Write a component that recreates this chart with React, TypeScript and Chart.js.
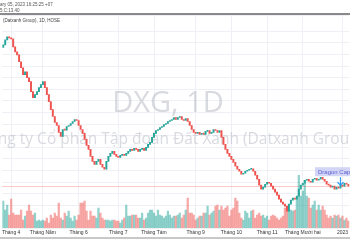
import React, { useEffect, useRef } from "react";
import { Chart, registerables } from "chart.js";

Chart.register(...registerables);

const opens = [
  34.3, 34.7, 35.45, 35.9, 35.75, 35.6, 34.4, 33.65, 33.2, 32.15,
  31.25, 30.2, 30.65, 29.75, 29.15, 27.65, 26.75, 27.2, 27.65, 28.25,
  28.7, 29.15, 28.25, 27.2, 26.15, 24.95, 23.9, 23.0, 22.55, 21.5,
  20.9, 21.95, 21.85, 22.4, 22.55, 22.85, 23.15, 23.45, 23.3, 22.55,
  21.95, 21.35, 20.45, 19.55, 18.95, 17.9, 17.15, 16.7, 17.15, 17.45,
  16.7, 16.25, 15.95, 17.15, 17.9, 18.35, 18.65, 18.2, 17.9, 17.75,
  18.05, 18.2, 18.05, 18.35, 18.65, 18.95, 18.8, 19.1, 18.95, 18.65,
  18.95, 19.1, 18.8, 19.25, 19.7, 20.0, 20.75, 21.35, 21.8, 21.95,
  22.25, 22.4, 22.7, 22.85, 23.15, 23.3, 23.45, 23.75, 23.45, 23.75,
  23.9, 23.45, 23.3, 23.6, 23.15, 22.55, 21.95, 21.5, 21.35, 21.5,
  21.2, 21.35, 21.2, 21.65, 21.8, 21.35, 21.5, 21.95, 21.8, 21.5,
  21.8, 20.75, 19.7, 18.95, 18.35, 17.9, 17.45, 17.0, 16.4, 15.95,
  15.65, 15.2, 15.35, 15.65, 15.8, 15.95, 16.0, 15.65, 15.05, 14.45,
  13.55, 12.95, 13.25, 13.7, 14.0, 13.85, 13.4, 12.95, 12.5, 12.05,
  11.45, 11.0, 10.7, 10.4, 9.65, 10.7, 11.3, 11.6, 11.45, 11.9,
  12.95, 13.55, 13.85, 14.3, 14.45, 14.15, 14.0, 14.45, 14.6, 14.3,
  14.45, 14.75, 14.45, 14.15, 13.7, 13.55, 13.25, 13.4, 12.95, 13.25,
  13.1, 13.55, 13.4, 13.85, 13.7,
];

const closes = [
  34.7, 35.45, 35.9, 35.75, 35.6, 34.4, 33.65, 33.2, 32.15, 31.25,
  30.2, 30.65, 29.75, 29.15, 27.65, 26.75, 27.2, 27.65, 28.25, 28.7,
  29.15, 28.25, 27.2, 26.15, 24.95, 23.9, 23.0, 22.55, 21.5, 20.9,
  21.95, 21.85, 22.4, 22.55, 22.85, 23.15, 23.45, 23.3, 22.55, 21.95,
  21.35, 20.45, 19.55, 18.95, 17.9, 17.15, 16.7, 17.15, 17.45, 16.7,
  16.25, 15.95, 17.15, 17.9, 18.35, 18.65, 18.2, 17.9, 17.75, 18.05,
  18.2, 18.05, 18.35, 18.65, 18.95, 18.8, 19.1, 18.95, 18.65, 18.95,
  19.1, 18.8, 19.25, 19.7, 20.0, 20.75, 21.35, 21.8, 21.95, 22.25,
  22.4, 22.7, 22.85, 23.15, 23.3, 23.45, 23.75, 23.45, 23.75, 23.9,
  23.45, 23.3, 23.6, 23.15, 22.55, 21.95, 21.5, 21.35, 21.5, 21.2,
  21.35, 21.2, 21.65, 21.8, 21.35, 21.5, 21.95, 21.8, 21.5, 21.8,
  20.75, 19.7, 18.95, 18.35, 17.9, 17.45, 17.0, 16.4, 15.95, 15.65,
  15.2, 15.35, 15.65, 15.8, 15.95, 16.0, 15.65, 15.05, 14.45, 13.55,
  12.95, 13.25, 13.7, 14.0, 13.85, 13.4, 12.95, 12.5, 12.05, 11.45,
  11.0, 10.7, 10.4, 9.65, 10.7, 11.3, 11.6, 11.45, 11.9, 12.95,
  13.55, 13.85, 14.3, 14.45, 14.15, 14.0, 14.45, 14.6, 14.3, 14.45,
  14.75, 14.45, 14.15, 13.7, 13.55, 13.25, 13.4, 12.95, 13.25, 13.1,
  13.55, 13.4, 13.85, 13.7, 13.4,
];

const volumes = [
  13.5, 9, 11.5, 6.5, 14.5, 7.5, 6.5, 6.5, 6.5, 9,
  4, 6, 8.5, 11.5, 8.5, 6.5, 7.5, 3.5, 4, 3.5,
  4, 3.5, 5, 2.5, 6.5, 5, 7.5, 6, 12.5, 5,
  4, 7.5, 6, 8.5, 5, 3.5, 6, 4, 6.5, 12.5,
  12.5, 13.5, 8.5, 4, 8.5, 6, 6, 5, 10, 7.5,
  5, 4, 4, 4, 3.5, 4, 4, 3.5, 3.5, 2.5,
  4, 5, 11.5, 6, 6, 6.5, 6.5, 6.5, 5, 5,
  7.5, 4, 5, 7.5, 9, 9, 7.5, 6, 9, 6.5,
  6, 5, 6, 8.5, 6.5, 5, 6, 6, 6.5, 7.5,
  5, 6.5, 9, 15, 7.5, 7.5, 6.5, 4, 5, 6,
  6, 7.5, 7.5, 11, 6.5, 7.5, 8.5, 11, 11.5, 9,
  11, 9, 10, 11, 6, 9, 10, 15, 13.5, 7.5,
  5, 4, 8.5, 7.5, 5, 8.5, 9, 5, 6.5, 7.5,
  6, 6.5, 5, 6, 4, 6, 6.5, 6, 5, 4,
  5, 6, 10, 11, 8.5, 9, 8.5, 9, 15, 26.5,
  16, 18.5, 24, 16, 15, 10, 11.5, 13.5, 9, 11.5,
  9, 11, 9, 6.5, 5, 6, 5, 6.5, 6, 6.5,
  5, 6, 4, 5, 3.5,
];

const monthIndex = [4, 20, 38, 58, 76, 97, 115, 133, 151, 171];
const monthLabels = [
  "Tháng 4", "Tháng Năm", "Tháng 6", "Tháng 7", "Tháng Tám",
  "Tháng 9", "Tháng 10", "Tháng 11", "Tháng Mười hai", "2023",
];

const symbolText = "DXG, 1D";
const companyText = "Công ty Cổ phần Tập đoàn Đất Xanh (Datxanh Group)";
const eventText = "Dragon Capital";
const eventIndex = 170;
const headerLine1 = "ary 05, 2023 16:25:25 +07";
const headerLine2 = "5.C:13.40";
const legendText = "(Datxanh Group), 1D, HOSE";

const UP = "#26a69a";
const DOWN = "#ef5350";
const UP_VOL = "rgba(38,166,154,0.5)";
const DOWN_VOL = "rgba(239,83,80,0.5)";

export default function App() {
  const ref = useRef<HTMLCanvasElement | null>(null);

  useEffect(() => {
    const canvas = ref.current;
    if (!canvas) return;
    const up = closes.map((c, i) => c >= opens[i]);
    const lastClose = closes[closes.length - 1];

    const overlay = {
      id: "overlay",
      beforeDatasetsDraw(chart: any) {
        const { ctx, chartArea, scales } = chart;
        ctx.save();
        ctx.fillStyle = "rgba(185,188,198,0.55)";
        ctx.textAlign = "center";
        ctx.textBaseline = "middle";
        ctx.font = "29px 'Open Sans'";
        ctx.fillText(symbolText, 168, 104);
        ctx.font = "15.5px 'Open Sans'";
        ctx.fillText(companyText, 171, 140);
        const y = scales.y.getPixelForValue(lastClose);
        ctx.strokeStyle = "rgba(239,83,80,0.3)";
        ctx.lineWidth = 1;
        ctx.beginPath();
        ctx.moveTo(chartArea.left, Math.round(y) + 0.5);
        ctx.lineTo(chartArea.right, Math.round(y) + 0.5);
        ctx.stroke();
        ctx.restore();
      },
      afterDatasetsDraw(chart: any) {
        const { ctx, scales } = chart;
        ctx.save();
        const x = scales.x.getPixelForValue(eventIndex);
        const py = scales.y.getPixelForValue(closes[eventIndex]);
        ctx.font = "6px 'Liberation Sans'";
        const w = ctx.measureText(eventText).width + 6;
        const bx = 315;
        const by = py - 18;
        ctx.fillStyle = "rgba(205,208,245,0.9)";
        ctx.fillRect(bx, by, w, 9);
        ctx.fillStyle = "#5a5fd0";
        ctx.textBaseline = "middle";
        ctx.textAlign = "left";
        ctx.fillText(eventText, bx + 3, by + 4.8);
        ctx.strokeStyle = "#2a9df4";
        ctx.lineWidth = 1.2;
        ctx.beginPath();
        ctx.moveTo(x, by + 10);
        ctx.lineTo(x, py);
        ctx.moveTo(x - 3, py - 3);
        ctx.lineTo(x, py);
        ctx.lineTo(x + 3, py - 3);
        ctx.stroke();
        ctx.restore();
      },
    };

    const chart = new Chart(canvas, {
      type: "bar",
      data: {
        labels: closes.map((_, i) => String(i)),
        datasets: [
          {
            label: "price",
            data: closes.map((c, i) => [opens[i], c]) as any,
            backgroundColor: up.map((u) => (u ? UP : DOWN)),
            barThickness: 1.3,
            minBarLength: 1,
            grouped: false,
            yAxisID: "y",
            order: 1,
          },
          {
            label: "volume",
            data: volumes,
            backgroundColor: up.map((u) => (u ? UP_VOL : DOWN_VOL)),
            barThickness: 1.6,
            grouped: false,
            yAxisID: "v",
            order: 2,
          },
        ],
      },
      options: {
        animation: false,
        responsive: false,
        maintainAspectRatio: false,
        layout: { padding: { top: 15, left: 0, right: 0, bottom: 12 } },
        plugins: { legend: { display: false }, tooltip: { enabled: false } },
        scales: {
          x: {
            type: "category",
            offset: true,
            border: { display: false },
            grid: { offset: false, color: "#eef0f5", drawTicks: false },
            afterBuildTicks: (s: any) => {
              s.ticks = monthIndex.map((v) => ({ value: v }));
            },
            ticks: {
              autoSkip: false,
              maxRotation: 0,
              padding: 2,
              color: "#333",
              font: { size: 5, family: "'Liberation Sans'" },
              callback: (v: any) => {
                const k = monthIndex.indexOf(Number(v));
                return k >= 0 ? monthLabels[k] : "";
              },
            },
          },
          y: {
            position: "right",
            min: 7.1,
            max: 39.2,
            border: { display: false },
            grid: { color: "#eef0f5", drawTicks: false },
            ticks: { display: false, stepSize: 1.75 },
            afterFit: (s: any) => {
              s.width = 0;
            },
          },
          v: {
            position: "left",
            min: 0,
            max: 107,
            display: false,
          },
        },
      },
      plugins: [overlay],
    });
    return () => chart.destroy();
  }, []);

  const small: React.CSSProperties = {
    position: "absolute",
    left: 0,
    fontFamily: "'Liberation Sans', sans-serif",
    fontSize: "4.5px",
    color: "#555",
    whiteSpace: "nowrap",
    lineHeight: "5px",
  };

  return (
    <div style={{ position: "fixed", left: 0, top: 0, width: 350, height: 250, background: "#fff", overflow: "hidden" }}>
      <canvas ref={ref} width={350} height={250} style={{ position: "absolute", left: 0, top: 0 }} />
      <div style={{ ...small, top: 2 }}>{headerLine1}</div>
      <div style={{ ...small, top: 8 }}>{headerLine2}</div>
      <div style={{ position: "absolute", left: 0, top: 13, width: 350, height: 1.5, background: "#8a8a8a" }} />
      <div style={{ ...small, top: 18, left: 3, color: "#444" }}>{legendText}</div>
      <div style={{ position: "absolute", left: 0, top: 237, width: 350, height: 2, background: "#c8c8c8" }} />
    </div>
  );
}
